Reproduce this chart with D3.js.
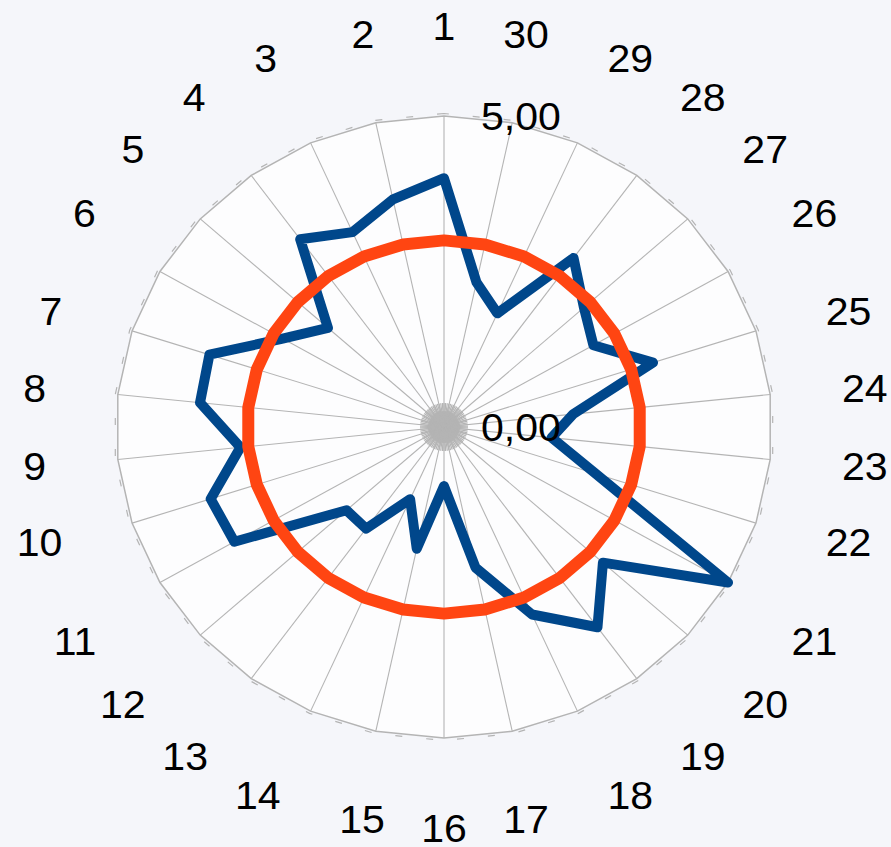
<!DOCTYPE html>
<html>
<head>
<meta charset="utf-8">
<script src="https://cdn.jsdelivr.net/npm/d3@7.9.0/dist/d3.min.js"></script>
<style>
	html, body { margin: 0; padding: 0; background: #f5f6fa; }
	svg { display: block; font-family: 'Liberation Sans', Arial, sans-serif; }
</style>
</head>
<body>
<svg id="chart" width="891" height="847"></svg>
<script>
const categories = ['1', '2', '3', '4', '5', '6', '7', '8', '9', '10',
	'11', '12', '13', '14', '15', '16', '17', '18', '19', '20',
	'21', '22', '23', '24', '25', '26', '27', '28', '29', '30'];

const blueValues = [4.0, 3.74, 3.43, 3.73, 2.38, 2.84, 3.76, 3.74, 3.12, 3.74,
	3.69, 2.0, 2.02, 1.27, 2.0, 0.95, 2.31, 3.3, 3.98, 3.26,
	5.0, 2.43, 1.65, 1.98, 3.35, 2.63, 2.87, 3.36, 2.0, 2.38];

const orangeValues = [3.0, 3.0, 3.0, 3.0, 3.0, 3.0, 3.0, 3.0, 3.0, 3.0,
	3.0, 3.0, 3.0, 3.0, 3.0, 3.0, 3.0, 3.0, 3.0, 3.0,
	3.0, 3.0, 3.0, 3.0, 3.0, 3.0, 3.0, 3.0, 3.0, 3.0];

const tickValues = [0, 5];
const tickLabels = ['0,00', '5,00'];

const cx = 444, cy = 427;
const rx = 328, ry = 311;
const fontSize = 38;
const stretchX = 1.08; // the picture's text is a bit wider than plain Arial
const grid = '#b4b4b4';

const svg = d3.select('#chart');

const r = d3.scaleLinear().domain([0, 5]).range([0, 1]);
// categories run counter-clockwise starting at the top
const angle = d3.scaleLinear().domain([0, categories.length]).range([0, 2 * Math.PI]);

function pt(i, v, extra = 0) {
	const a = angle(i);
	return [cx - (rx * r(v) + extra) * Math.sin(a), cy - (ry * r(v) + extra) * Math.cos(a)];
}

const closedLine = d3.line().curve(d3.curveLinearClosed);

// plot area
svg.append('path')
	.attr('d', closedLine(categories.map((c, i) => pt(i, 5))))
	.attr('fill', '#fdfdfe')
	.attr('stroke', grid)
	.attr('stroke-width', 1.5);

// little tick marks just outside the ring
svg.append('path')
	.attr('d', closedLine(categories.map((c, i) => pt(i, 5, 2.5))))
	.attr('fill', 'none')
	.attr('stroke', grid)
	.attr('stroke-width', 1.2)
	.attr('stroke-dasharray', '7 24');

// spokes
categories.forEach((c, i) => {
	const [x, y] = pt(i, 5);
	svg.append('line')
		.attr('x1', cx).attr('y1', cy)
		.attr('x2', x).attr('y2', y)
		.attr('stroke', grid)
		.attr('stroke-width', 1.1);
});

// tick cluster at the centre
svg.append('circle').attr('cx', cx).attr('cy', cy).attr('r', 16).attr('fill', grid);
d3.range(0, 360, 4).forEach((deg) => {
	const a = deg * Math.PI / 180;
	svg.append('line')
		.attr('x1', cx).attr('y1', cy)
		.attr('x2', cx + 24 * Math.sin(a)).attr('y2', cy - 24 * Math.cos(a))
		.attr('stroke', grid)
		.attr('stroke-width', 1.2);
});

// series
svg.append('path')
	.attr('d', closedLine(blueValues.map((v, i) => pt(i, v))))
	.attr('fill', 'none')
	.attr('stroke', '#00478b')
	.attr('stroke-width', 10)
	.attr('stroke-linejoin', 'round');

svg.append('path')
	.attr('d', closedLine(orangeValues.map((v, i) => pt(i, v))))
	.attr('fill', 'none')
	.attr('stroke', '#ff4512')
	.attr('stroke-width', 12)
	.attr('stroke-linejoin', 'round');

const capH = fontSize * 0.716;

// value axis labels
tickValues.forEach((v, k) => {
	svg.append('text')
		.attr('transform', `translate(${cx + 37},${cy - ry * r(v) + capH / 2}) scale(${stretchX},1)`)
		.attr('font-size', fontSize)
		.attr('fill', '#000')
		.text(tickLabels[k]);
});

// category labels: a padded text box hung off a point on each spoke's ray
const labelR = 374, padX = 26, halfBoxH = 27;
const clamp = (v) => Math.max(0, Math.min(1, v));
categories.forEach((c, i) => {
	const a = angle(i);
	const s = -Math.sin(a), co = Math.cos(a);
	const as = Math.abs(s), ac = Math.abs(co);
	const t = svg.append('text')
		.attr('font-size', fontSize)
		.attr('text-anchor', 'middle')
		.attr('fill', '#000')
		.text(c);
	const w = t.node().getComputedTextLength() * stretchX;
	const gx = as < 0.407 ? clamp((as - 0.18) / 0.227 * 0.7) : Math.min(1, 0.7 + (as - 0.407) * 0.55);
	const gy = clamp((ac - 0.31) / 0.19);
	const bx = cx + labelR * s + Math.sign(s) * (w / 2 + padX) * gx;
	const by = cy - (labelR * co + Math.sign(co) * halfBoxH * gy);
	t.attr('transform', `translate(${bx},${by + capH / 2}) scale(${stretchX},1)`);
});
</script>
</body>
</html>
